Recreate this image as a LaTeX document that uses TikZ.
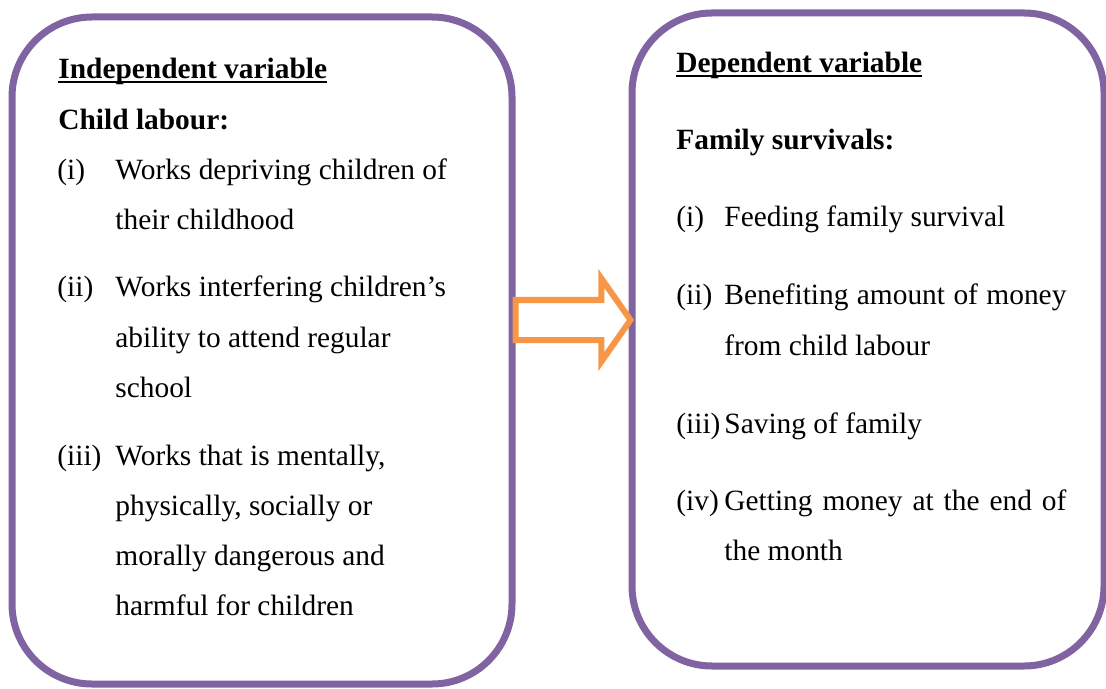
\documentclass[tikz,border=0pt]{standalone}
\usepackage{fontspec}
\setmainfont{Liberation Serif}
\usetikzlibrary{shapes.arrows}
\definecolor{boxpurple}{HTML}{8064A2}
\definecolor{arroworange}{HTML}{F79646}
\newcommand{\headline}[1]{\setbox0\hbox{#1}\rlap{\rule[-2.2pt]{\wd0}{1pt}}\box0}
\tikzset{
  varbox/.style={draw=boxpurple, line width=3.5pt, rounded corners=40pt, inner sep=0pt},
  txt/.style={anchor=base west, inner sep=0pt, font=\fontsize{14.7}{25}\selectfont, align=left},
  ltxt/.style={txt, text width=185pt, align=flush left},
  jtxt/.style={txt, text width=171pt, align=justify},
}
\begin{document}
\begin{tikzpicture}[x=0.5pt,y=-0.5pt]
\useasboundingbox (0,0) rectangle (1106,689);
% the two boxes
\node[varbox, minimum width=250pt, minimum height=333.5pt] (indep) at (262,350.5) {};
\node[varbox, minimum width=236pt, minimum height=326.5pt] (dep) at (868,339.5) {};
% arrow between them
\node[single arrow, draw=arroworange, line width=3pt, inner xsep=0pt, inner ysep=8.5pt,
  minimum height=57.5pt, minimum width=38.5pt, single arrow head extend=10.75pt,
  single arrow tip angle=110] (arr) at (566,320) {};

% independent variable
\node[txt] (indeptitle) at (58,79) {\headline{\textbf{Independent variable}}};
\node[txt] (childlab) at (58,130) {\textbf{Child labour:}};
\node[txt] (l1) at (57,180) {(i)};
\node[ltxt] (t1) at (115,180) {Works depriving children of\\their childhood};
\node[txt] (l2) at (57,297) {(ii)};
\node[ltxt] (t2) at (115,297) {Works interfering children’s\\ability to attend regular\\school};
\node[txt] (l3) at (57,465) {(iii)};
\node[ltxt] (t3) at (115,465) {Works that is mentally,\\physically, socially or\\morally dangerous and\\harmful for children};

% dependent variable
\node[txt] (deptitle) at (676,73) {\headline{\textbf{Dependent variable}}};
\node[txt] (famsurv) at (676,150) {\textbf{Family survivals:}};
\node[txt] (r1) at (676,227) {(i)};
\node[txt] (s1) at (724,227) {Feeding family survival};
\node[txt] (r2) at (676,305) {(ii)};
\node[jtxt] (s2) at (724,305) {Benefiting amount of money from child labour};
\node[txt] (r3) at (676,433) {(iii)};
\node[txt] (s3) at (724,433) {Saving of family};
\node[txt] (r4) at (676,510) {(iv)};
\node[jtxt] (s4) at (724,510) {Getting money at the end of the month};
\end{tikzpicture}
\end{document}
